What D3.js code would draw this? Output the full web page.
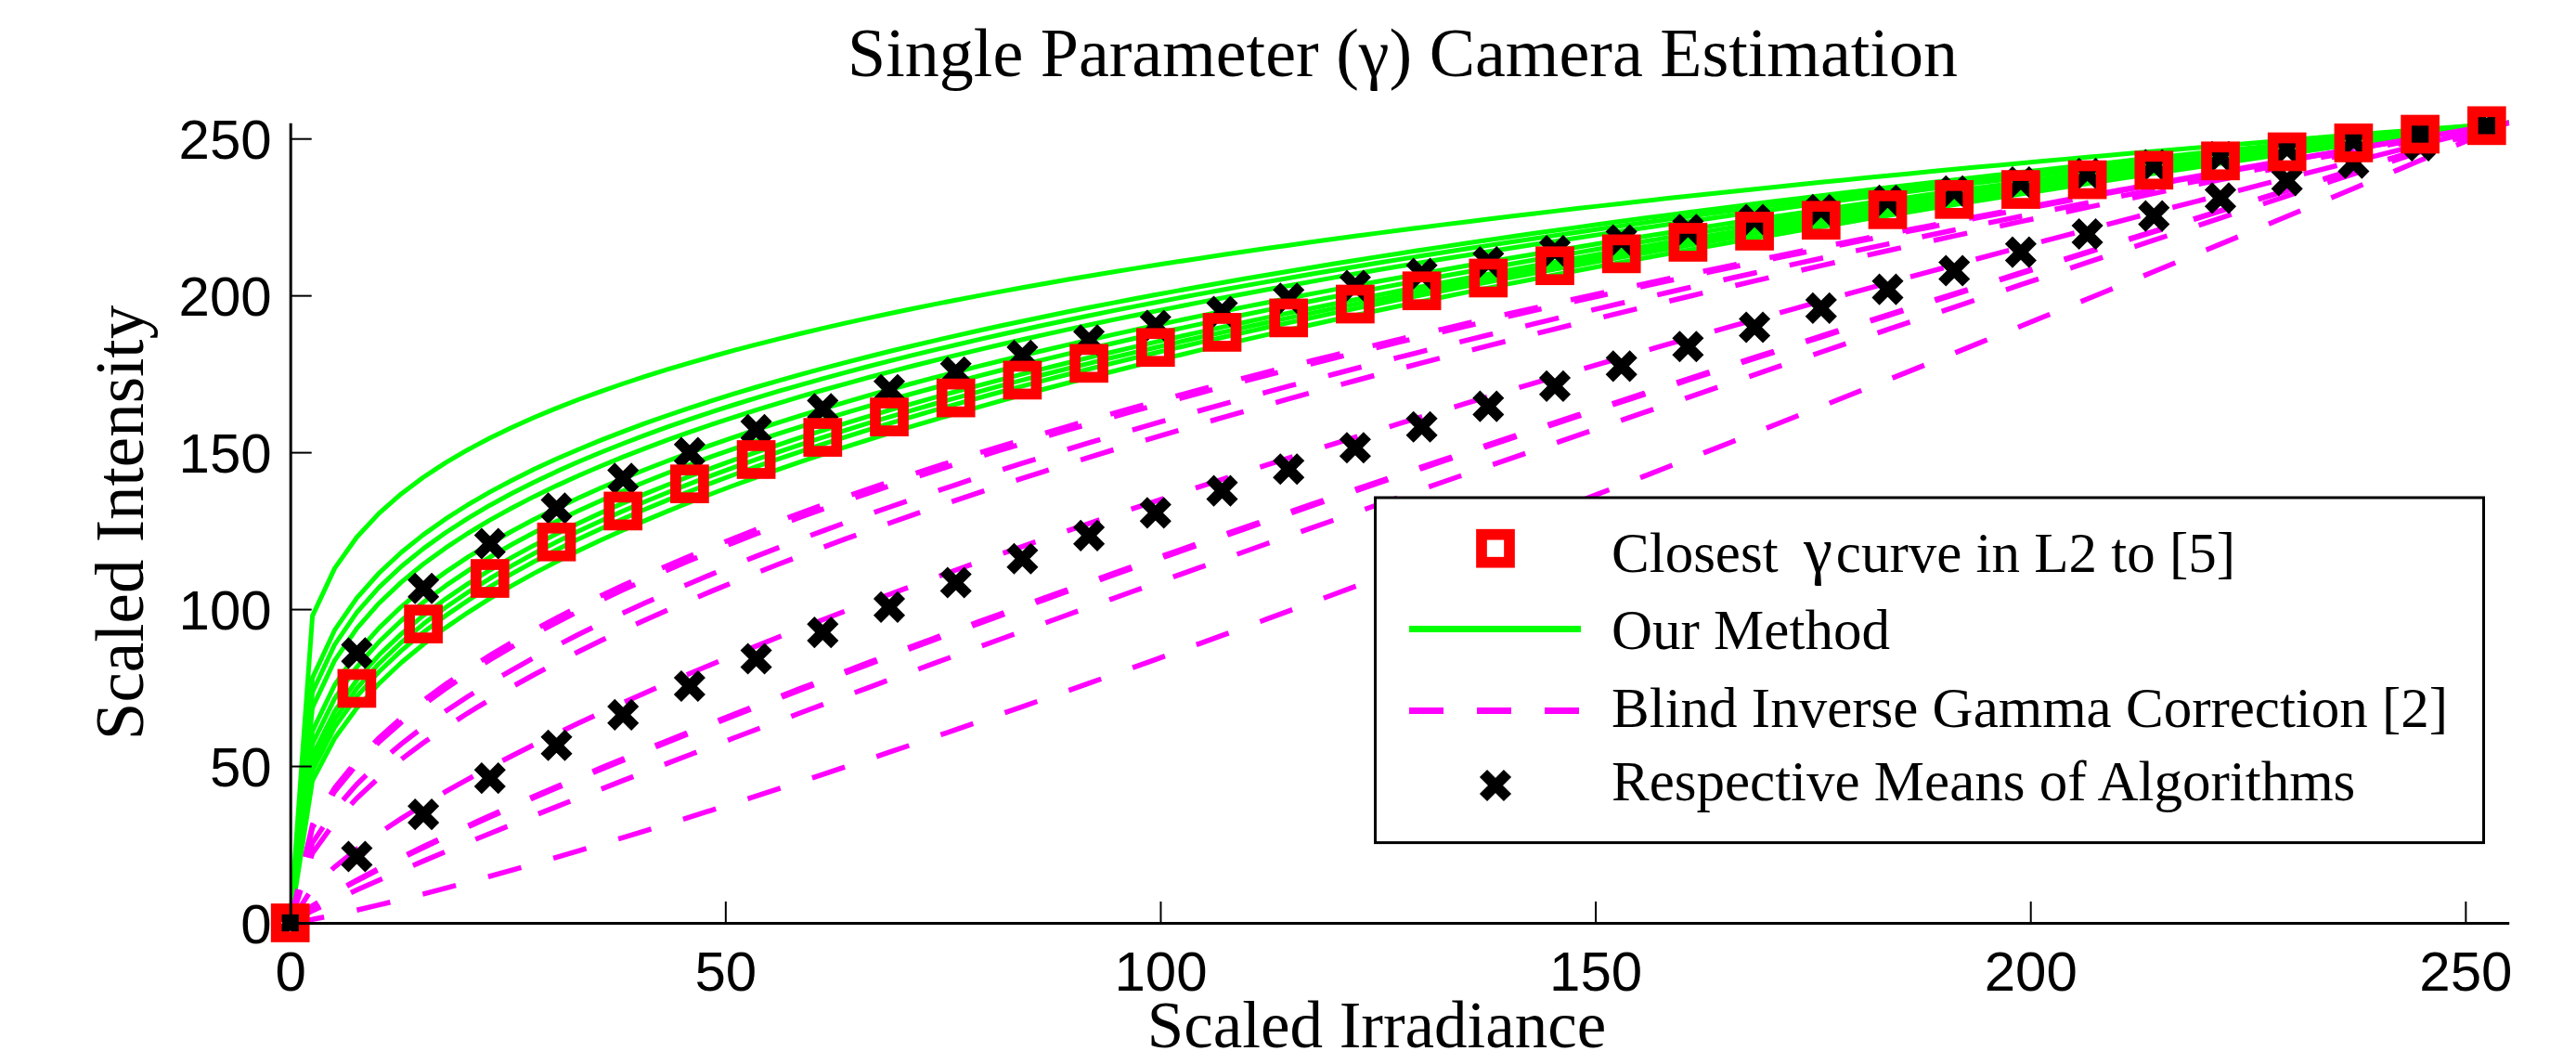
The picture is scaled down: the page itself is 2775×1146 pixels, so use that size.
<!DOCTYPE html>
<html>
<head>
<meta charset="utf-8">
<script src="https://cdn.jsdelivr.net/npm/d3@7"></script>
<style>
  body { margin: 0; background: #fff; }
  text { fill: #000; }
</style>
</head>
<body>
<div id="container"></div>
<script>
// irradiance values where the markers sit (step 0.03 of full scale)
const irradianceMarks = [0, 7.65, 15.3, 22.95, 30.6, 38.25, 45.9, 53.55, 61.2, 68.85,
  76.5, 84.15, 91.8, 99.45, 107.1, 114.75, 122.4, 130.05, 137.7, 145.35,
  153, 160.65, 168.3, 175.95, 183.6, 191.25, 198.9, 206.55, 214.2, 221.85,
  229.5, 237.15, 244.8, 252.45];

// gamma of each estimated curve
const gammaOurMethod = [0.208, 0.257, 0.27, 0.285, 0.31, 0.325, 0.34, 0.35, 0.36, 0.375];
const gammaBlind = [0.455, 0.462, 0.50, 0.53, 0.68, 0.835, 0.84, 0.91, 1.18];
const gammaClosest = 0.35;
const gammaMeanOurs = 0.31;
const gammaMeanBlind = 0.71;

const xTicks = [0, 50, 100, 150, 200, 250];
const yTicks = [0, 50, 100, 150, 200, 250];

const legendLabels = ['Closest ', 'Our Method', 'Blind Inverse Gamma Correction [2]', 'Respective Means of Algorithms'];

const width = 2775;
const height = 1146;

const xScale = d3.scaleLinear().domain([0, 255]).range([312.7, 2702.7]);
const yScale = d3.scaleLinear().domain([0, 255]).range([994, 132.3]);

// fine grid the curves are drawn on (step 0.01 of full scale)
const irradianceFine = d3.range(101).map(i => i * 2.55);
const gammaCurve = (g, xs) => xs.map(v => [v, 255 * Math.pow(v / 255, g)]);

const svg = d3.select('#container')
  .append('svg')
  .attr('width', width)
  .attr('height', height);

svg.append('rect')
  .attr('width', width)
  .attr('height', height)
  .attr('fill', '#fff');

const line = d3.line()
  .x(d => xScale(d[0]))
  .y(d => yScale(d[1]));

// our method (green)
svg.append('g')
  .selectAll('path')
  .data(gammaOurMethod)
  .enter()
  .append('path')
  .attr('d', g => line(gammaCurve(g, irradianceFine)))
  .attr('fill', 'none')
  .attr('stroke', '#00ff00')
  .attr('stroke-width', 5)
  .attr('stroke-linejoin', 'round');

// blind inverse gamma correction (magenta dashed)
svg.append('g')
  .selectAll('path')
  .data(gammaBlind)
  .enter()
  .append('path')
  .attr('d', g => line(gammaCurve(g, irradianceFine)))
  .attr('fill', 'none')
  .attr('stroke', '#ff00ff')
  .attr('stroke-width', 5.5)
  .attr('stroke-dasharray', '37,36');

// means (black x)
const xMark = 'M-13,-13L13,13M-13,13L13,-13';
[gammaMeanOurs, gammaMeanBlind].forEach(g => {
  svg.append('g')
    .selectAll('path')
    .data(gammaCurve(g, irradianceMarks))
    .enter()
    .append('path')
    .attr('d', xMark)
    .attr('transform', d => `translate(${xScale(d[0])},${yScale(d[1])})`)
    .attr('fill', 'none')
    .attr('stroke', '#000')
    .attr('stroke-width', 11.5);
});

// closest gamma curve (red squares)
svg.append('g')
  .selectAll('rect')
  .data(gammaCurve(gammaClosest, irradianceMarks))
  .enter()
  .append('rect')
  .attr('x', d => xScale(d[0]) - 15)
  .attr('y', d => yScale(d[1]) - 15)
  .attr('width', 30)
  .attr('height', 30)
  .attr('fill', 'none')
  .attr('stroke', '#ff0000')
  .attr('stroke-width', 11.7);

//axes
const xAxis = d3.axisBottom(xScale)
  .tickValues(xTicks)
  .tickSizeInner(-23)
  .tickSizeOuter(0)
  .tickPadding(30);
const yAxis = d3.axisLeft(yScale)
  .tickValues(yTicks)
  .tickSizeInner(-23)
  .tickSizeOuter(0)
  .tickPadding(20);

const gx = svg.append('g')
  .attr('transform', `translate(0,${yScale(0)})`)
  .call(xAxis);
const gy = svg.append('g')
  .attr('transform', `translate(${xScale(0)},0)`)
  .call(yAxis);

[gx, gy].forEach(g => {
  g.select('.domain').attr('stroke', '#000').attr('stroke-width', 3);
  g.selectAll('.tick line').attr('stroke', '#000').attr('stroke-width', 2);
  g.selectAll('.tick text')
    .attr('fill', '#000')
    .style('font-family', '"Liberation Sans", Arial, sans-serif')
    .style('font-size', '60px');
});
gy.selectAll('.tick text').attr('dy', '0.36em');

// title and labels
const serif = '"Liberation Serif", "Times New Roman", serif';

svg.append('text')
  .attr('x', 1511)
  .attr('y', 82)
  .attr('text-anchor', 'middle')
  .style('font-family', serif)
  .style('font-size', '74px')
  .text('Single Parameter (γ) Camera Estimation');

svg.append('text')
  .attr('x', 1483)
  .attr('y', 1128)
  .attr('text-anchor', 'middle')
  .style('font-family', serif)
  .style('font-size', '71px')
  .text('Scaled Irradiance');

svg.append('text')
  .attr('transform', 'translate(154,563) rotate(-90)')
  .attr('text-anchor', 'middle')
  .style('font-family', serif)
  .style('font-size', '73px')
  .text('Scaled Intensity');

// legend
const legend = svg.append('g');
legend.append('rect')
  .attr('x', 1481.5)
  .attr('y', 536)
  .attr('width', 1194)
  .attr('height', 371.6)
  .attr('fill', '#fff')
  .attr('stroke', '#000')
  .attr('stroke-width', 3);

const rowY = [590.7, 677.4, 765.5, 846];
const textX = 1736;

legend.append('rect')
  .attr('x', 1611 - 15)
  .attr('y', rowY[0] - 15)
  .attr('width', 30)
  .attr('height', 30)
  .attr('fill', 'none')
  .attr('stroke', '#ff0000')
  .attr('stroke-width', 11.7);

legend.append('line')
  .attr('x1', 1518).attr('x2', 1703)
  .attr('y1', rowY[1]).attr('y2', rowY[1])
  .attr('stroke', '#00ff00')
  .attr('stroke-width', 7);

legend.append('line')
  .attr('x1', 1518).attr('x2', 1703)
  .attr('y1', rowY[2]).attr('y2', rowY[2])
  .attr('stroke', '#ff00ff')
  .attr('stroke-width', 7)
  .attr('stroke-dasharray', '37,36');

legend.append('path')
  .attr('d', xMark)
  .attr('transform', `translate(1611,${rowY[3]})`)
  .attr('fill', 'none')
  .attr('stroke', '#000')
  .attr('stroke-width', 11.5);

const textBase = [616, 699, 783, 862];
legend.selectAll('text.lab')
  .data(legendLabels)
  .enter()
  .append('text')
  .attr('class', 'lab')
  .attr('x', textX)
  .attr('y', (d, i) => textBase[i])
  .style('font-family', serif)
  .style('font-size', '61px')
  .each(function (d, i) {
    const t = d3.select(this);
    t.append('tspan').text(d);
    if (i === 0) {
      t.append('tspan').attr('dx', 12).style('font-size', '70px').text('γ');
      t.append('tspan').attr('dx', 4).text('curve in L2 to [5]');
    }
  });
</script>
</body>
</html>
